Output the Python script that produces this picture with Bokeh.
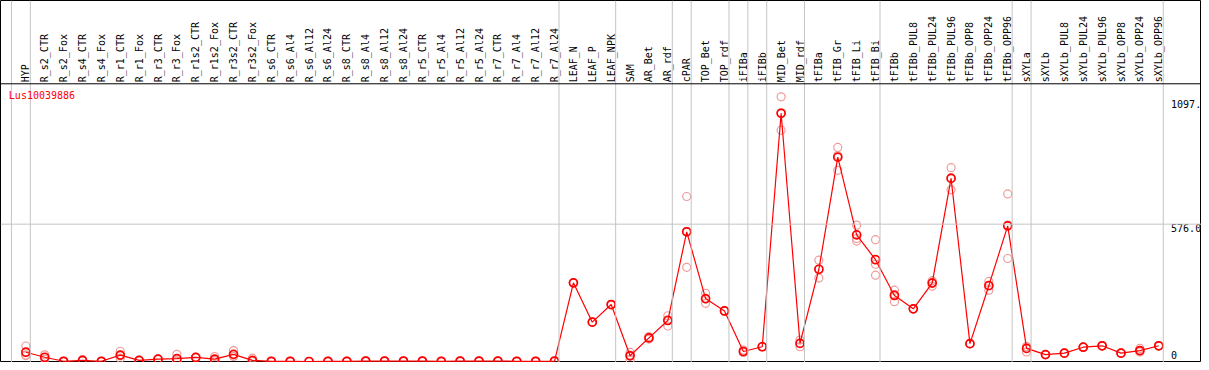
import numpy as np
from bokeh.plotting import figure
from bokeh.models import Range1d, Span, Label
from bokeh.core.properties import value
from bokeh.embed import file_html
from bokeh.resources import INLINE

title = "Lus10039886"

categories = [
    "HYP",
    "R_s2_CTR", "R_s2_Fox", "R_s4_CTR", "R_s4_Fox", "R_r1_CTR", "R_r1_Fox",
    "R_r3_CTR", "R_r3_Fox", "R_r1s2_CTR", "R_r1s2_Fox", "R_r3s2_CTR", "R_r3s2_Fox",
    "R_s6_CTR", "R_s6_Al4", "R_s6_Al12", "R_s6_Al24",
    "R_s8_CTR", "R_s8_Al4", "R_s8_Al12", "R_s8_Al24",
    "R_r5_CTR", "R_r5_Al4", "R_r5_Al12", "R_r5_Al24",
    "R_r7_CTR", "R_r7_Al4", "R_r7_Al12", "R_r7_Al24",
    "LEAF_N", "LEAF_P", "LEAF_NPK",
    "SAM", "AR_Bet", "AR_rdf",
    "cPAR",
    "TOP_Bet", "TOP_rdf",
    "iFIBa",
    "iFIBb",
    "MID_Bet", "MID_rdf",
    "tFIBa", "tFIB_Gr", "tFIB_Li", "tFIB_Bi",
    "tFIBb", "tFIBb_PUL8", "tFIBb_PUL24", "tFIBb_PUL96", "tFIBb_OPP8", "tFIBb_OPP24", "tFIBb_OPP96",
    "sXYLa",
    "sXYLb", "sXYLb_PUL8", "sXYLb_PUL24", "sXYLb_PUL96", "sXYLb_OPP8", "sXYLb_OPP24", "sXYLb_OPP96",
]

means = [
    39,
    18, 1, 5, 1, 27, 5, 10, 12, 17, 10, 30, 5,
    1, 1, 0, 1, 1, 2, 2, 2, 2, 1, 2, 2, 2, 1, 1, 2,
    330, 165, 239,
    24, 99, 172,
    544,
    264, 212,
    42,
    62,
    1041, 76,
    387, 857, 531, 427,
    277, 221, 329, 768, 75, 318, 569,
    55,
    29, 35, 60, 66, 35, 46, 66,
]

rep_a = [
    65,
    28, 1, 8, 1, 43, 5, 10, 30, 17, 21, 46, 14,
    1, 1, 0, 1, 1, 2, 2, 2, 2, 1, 2, 2, 2, 1, 1, 2,
    330, 165, 239,
    38, 105, 192,
    692,
    286, 212,
    48,
    62,
    1110, 90,
    425, 898, 572, 511,
    299, 221, 339, 813, 75, 336, 703,
    62,
    29, 35, 60, 66, 35, 55, 66,
]

rep_b = [
    27,
    10, 1, 3, 1, 14, 5, 10, 3, 17, 5, 22, 1,
    1, 1, 0, 1, 1, 2, 2, 2, 2, 1, 2, 2, 2, 1, 1, 2,
    330, 165, 239,
    7, 94, 149,
    395,
    244, 212,
    38,
    62,
    970, 62,
    350, 802, 505, 362,
    251, 221, 316, 720, 75, 299, 432,
    40,
    29, 35, 60, 66, 35, 40, 66,
]

rep_c = [
    25,
    16, 1, 4, 1, 24, 5, 10, 3, 17, 4, 22, 0,
    1, 1, 0, 1, 1, 2, 2, 2, 2, 1, 2, 2, 2, 1, 1, 2,
    330, 165, 239,
    27, 98, 175,
    545,
    262, 212,
    40,
    62,
    1043, 76,
    386, 864, 516, 408,
    281, 221, 332, 771, 75, 319, 572,
    63,
    29, 35, 60, 66, 35, 43, 66,
]

# first category index of each separated group (last entry = end)
group_starts = [0, 1, 29, 32, 35, 36, 38, 39, 40, 42, 46, 53, 54, 61]

y_ticks = [1097, 576, 0]
y_tick_labels = ["1097.", "576.0", "0"]

idx = list(range(len(categories)))

RED = "#ff0000"
PINK = "#f09a9a"
GRAY = "#c4c4c4"
FONT = value("DejaVu Sans Mono")

p = figure(
    width=1201, height=362,
    x_range=Range1d(-1.342, 62.263),
    y_range=Range1d(-4.1, 1514),
    output_backend="svg", toolbar_location=None,
    x_axis_location=None, y_axis_location=None,
    min_border=0,
    outline_line_color="black", outline_line_width=1,
    background_fill_color="white", border_fill_color="white",
)
p.grid.visible = False

# group separators
for g in group_starts:
    p.add_layout(Span(location=g - 0.763, dimension="height",
                      line_color=GRAY, line_width=1))

# horizontal reference line at 576
p.add_layout(Span(location=y_ticks[1], dimension="width",
                  line_color=GRAY, line_width=1))

# header bottom line
header_y = 1164.7
p.add_layout(Span(location=header_y, dimension="width",
                  line_color="black", line_width=1))

# category labels (vertical, in header)
p.text(x=idx, y=[header_y + 6.5] * len(idx), text=categories,
       angle=np.pi / 2, text_align="left", text_baseline="middle",
       text_font=FONT, text_font_size="10px", text_color="black")

# replicate circles
for reps in (rep_a, rep_b, rep_c):
    p.scatter(x=idx, y=reps, marker="circle", size=8,
              fill_color=None, line_color=PINK, line_width=1.2)

# mean line and markers
p.line(x=idx, y=means, line_color=RED, line_width=1.2)
p.scatter(x=idx, y=means, marker="circle", size=8,
          fill_color=None, line_color=RED, line_width=1.7)

# right-side value labels
lab_x = 60.65
p.text(x=[lab_x, lab_x], y=y_ticks[:2], text=y_tick_labels[:2],
       text_align="left", text_baseline="top",
       text_font=FONT, text_font_size="10px", text_color="black")
p.text(x=[lab_x], y=[y_ticks[2]], text=[y_tick_labels[2]], y_offset=-3,
       text_align="left", text_baseline="bottom",
       text_font=FONT, text_font_size="10px", text_color="black")

# title
p.add_layout(Label(x=-0.9, y=1140, text=title, text_color=RED,
                   text_baseline="top", text_align="left",
                   text_font="DejaVu Sans Mono", text_font_size="10px"))

open("out.html", "w").write(file_html(p, INLINE))
